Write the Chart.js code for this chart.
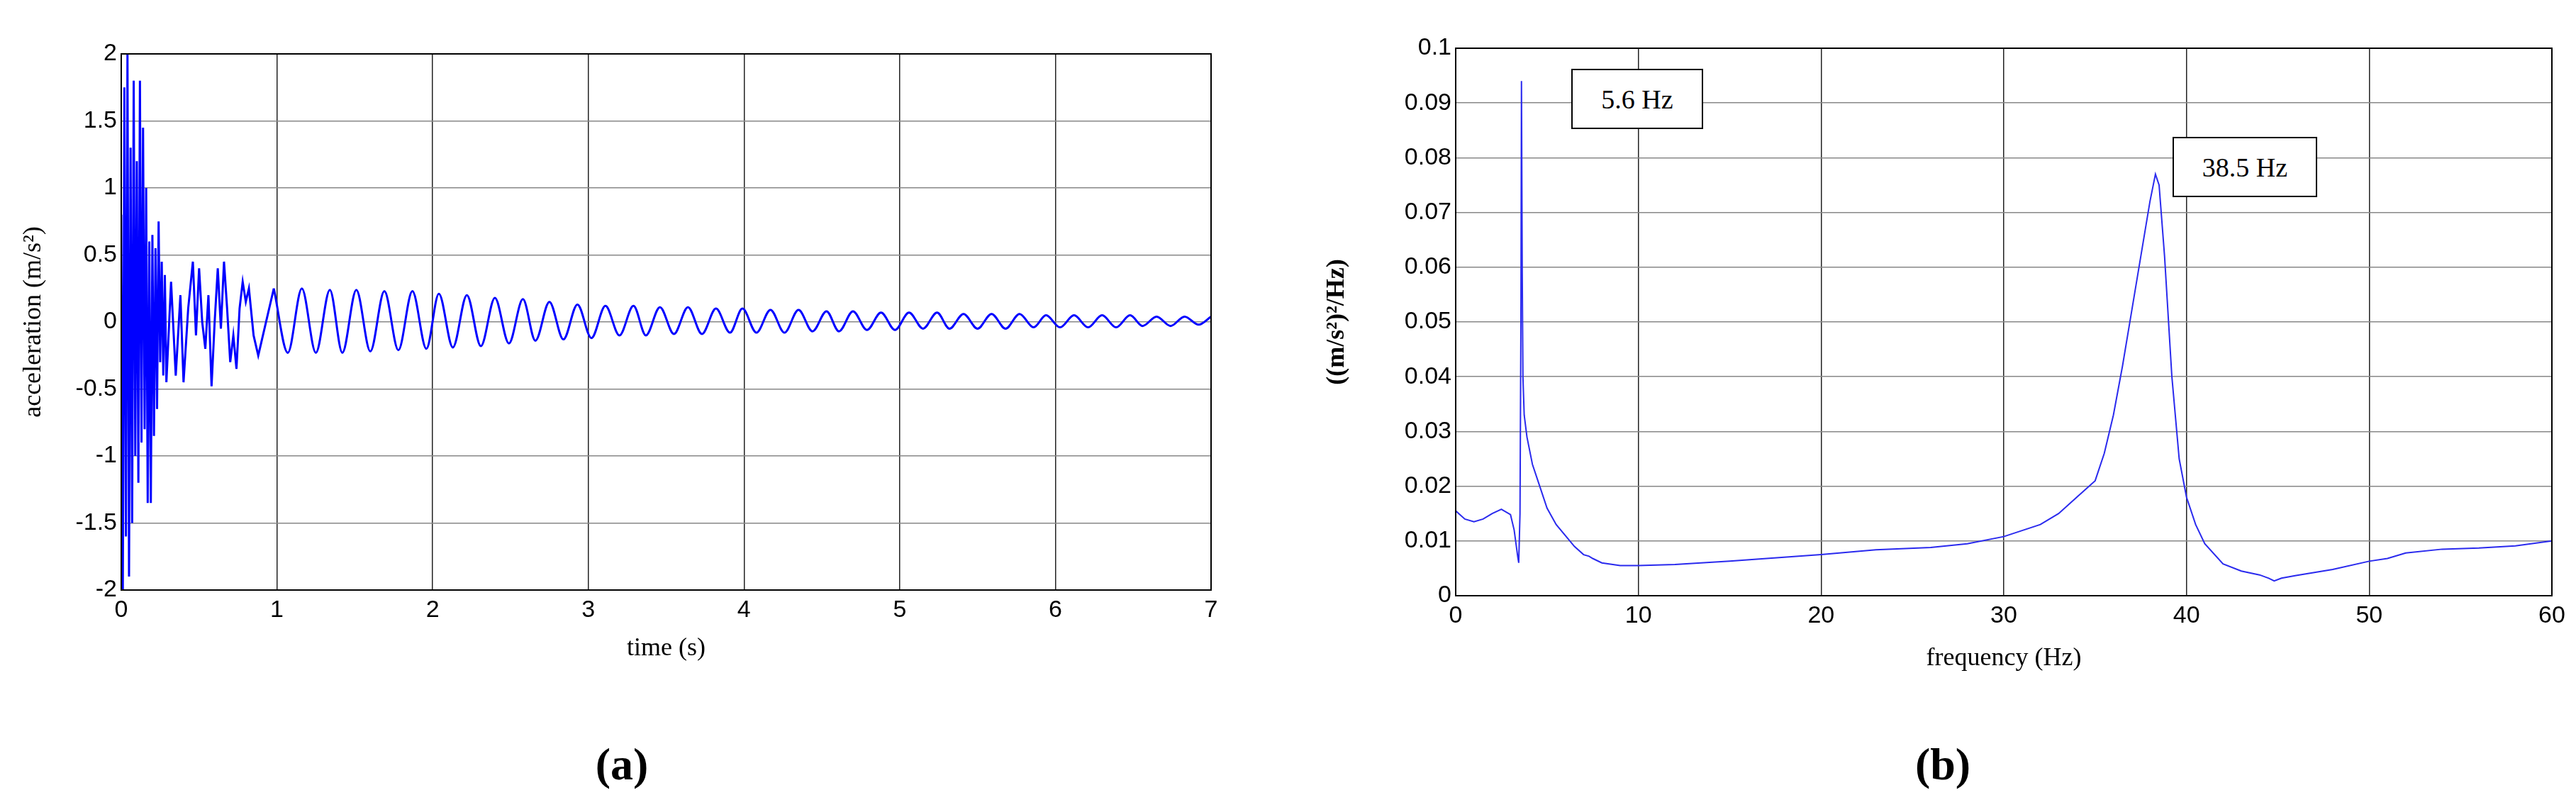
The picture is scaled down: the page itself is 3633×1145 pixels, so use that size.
<!DOCTYPE html>
<html><head><meta charset="utf-8">
<script src="https://cdn.jsdelivr.net/npm/chart.js@4"></script>
<style>
body{margin:0;background:#fff;width:3633px;height:1145px;position:relative;overflow:hidden}
canvas{position:absolute;top:0}
.lab{position:absolute;font-family:"Liberation Serif";font-weight:bold;font-size:64px;transform:translate(-50%,-50%)}
.box{position:absolute;border:2px solid #000;background:#fff;font-family:"Liberation Serif";font-size:38px;display:flex;align-items:center;justify-content:center;box-sizing:border-box}
</style></head><body>
<div style="position:absolute;left:0;top:0;width:1800px;height:1145px"><canvas id="c1"></canvas></div>
<div style="position:absolute;left:1800px;top:0;width:1833px;height:1145px"><canvas id="c2"></canvas></div>
<div class="lab" style="left:877px;top:1078px">(a)</div>
<div class="lab" style="left:2740px;top:1078px">(b)</div>
<div class="box" style="left:2216px;top:97px;width:186px;height:85px">5.6 Hz</div>
<div class="box" style="left:3064px;top:193px;width:204px;height:85px">38.5 Hz</div>
<script>
// (a) time signal
const timeEarly=[0,0.01,0.02,0.03,0.04,0.05,0.06,0.07,0.08,0.09,0.10,0.11,0.12,0.13,0.14,0.15,0.16,0.17,0.18,0.19,0.20,0.21,0.22,0.23,0.24,0.25,0.26,0.27,0.28,0.29,0.32,0.35,0.38,0.40,0.43,0.46,0.48,0.50,0.52,0.54,0.56,0.58,0.60,0.62,0.64,0.66,0.68,0.70,0.72,0.74,0.76,0.78,0.80,0.82,0.85,0.88,0.90,0.98];
const accEarly=[0.8,-2.0,1.75,-1.6,2.0,-1.9,1.3,-1.5,1.8,-1.0,1.2,-1.2,1.8,-0.9,1.45,-0.8,1.0,-1.35,0.6,-1.35,0.65,-0.85,0.55,-0.65,0.75,-0.3,0.45,-0.4,0.35,-0.45,0.3,-0.4,0.2,-0.45,0.1,0.45,-0.1,0.4,0.0,-0.2,0.2,-0.48,0.0,0.4,-0.05,0.45,0.1,-0.3,-0.1,-0.35,0.1,0.3,0.15,0.25,-0.1,-0.25,-0.15,0.25];
const timeOsc=[0.98,1.07,1.16,1.25,1.34,1.42,1.51,1.60,1.69,1.78,1.87,1.96,2.04,2.13,2.22,2.31,2.40,2.49,2.58,2.66,2.75,2.84,2.93,3.02,3.11,3.20,3.29,3.37,3.46,3.55,3.64,3.73,3.82,3.91,3.99,4.08,4.17,4.26,4.35,4.44,4.53,4.61,4.70,4.79,4.88,4.97,5.06,5.15,5.24,5.32,5.41,5.50,5.59,5.68,5.77,5.86,5.94,6.03,6.12,6.21,6.30,6.39,6.48,6.56,6.65,6.74,6.83,6.92,7.0];
const accOsc=[0.25,-0.23,0.25,-0.23,0.24,-0.23,0.24,-0.22,0.23,-0.21,0.23,-0.2,0.21,-0.19,0.2,-0.18,0.18,-0.16,0.17,-0.14,0.15,-0.13,0.13,-0.12,0.12,-0.1,0.12,-0.1,0.11,-0.09,0.11,-0.09,0.1,-0.08,0.1,-0.08,0.09,-0.08,0.09,-0.07,0.08,-0.07,0.08,-0.06,0.07,-0.06,0.07,-0.05,0.07,-0.05,0.06,-0.05,0.06,-0.05,0.06,-0.04,0.05,-0.04,0.05,-0.04,0.05,-0.04,0.05,-0.03,0.04,-0.03,0.04,-0.02,0.04];
const yTicksA=[-2,-1.5,-1,-0.5,0,0.5,1,1.5,2];
// (b) PSD
const freq=[0,0.5,1,1.5,2,2.5,3,3.2,3.4,3.45,3.52,3.57,3.6,3.64,3.68,3.75,3.9,4.2,4.6,5,5.5,6,6.5,7,7.3,7.5,8,9,10,12,15,20,23,26,28,30,32,33,34,35,35.5,36,36.5,37,37.5,38,38.3,38.5,38.8,39.2,39.6,40,40.5,41,42,43,44,44.5,44.8,45.2,46,48,50,51,52,54,56,58,60];
const psd=[0.0155,0.014,0.0135,0.014,0.015,0.0158,0.0148,0.012,0.007,0.006,0.015,0.05,0.094,0.06,0.04,0.033,0.029,0.024,0.02,0.016,0.013,0.011,0.009,0.0075,0.0072,0.0068,0.006,0.0055,0.0055,0.0057,0.0063,0.0075,0.0084,0.0088,0.0095,0.0108,0.013,0.015,0.018,0.021,0.026,0.033,0.042,0.052,0.062,0.072,0.077,0.075,0.062,0.04,0.025,0.018,0.013,0.0095,0.0058,0.0045,0.0038,0.0032,0.0027,0.0032,0.0037,0.0048,0.0063,0.0068,0.0078,0.0085,0.0087,0.0091,0.0100];
const yTicksB=['0','0.01','0.02','0.03','0.04','0.05','0.06','0.07','0.08','0.09','0.1'];

const frame={id:'frame',afterDraw(c){const a=c.chartArea,x=c.ctx;x.save();x.strokeStyle='#000';x.lineWidth=2;x.strokeRect(a.left,a.top,a.right-a.left,a.bottom-a.top);x.restore();}};
const tickFont={family:'Liberation Sans',size:34};
function mk(id,sets,opt){
  return new Chart(document.getElementById(id),{type:'line',
    data:{datasets:sets.map(s=>({data:s.pts,borderColor:opt.color,borderWidth:opt.lw,pointRadius:0,tension:s.smooth?0.4:0,cubicInterpolationMode:s.smooth?'monotone':'default'}))},
    options:{responsive:true,maintainAspectRatio:false,animation:false,
      layout:{padding:opt.pad},
      plugins:{legend:{display:false},tooltip:{enabled:false}},
      scales:{
        x:{type:'linear',min:opt.xmin,max:opt.xmax,afterFit:s=>{s.height=opt.xh},
          ticks:{stepSize:opt.xstep,font:tickFont,color:'#000',padding:8,maxRotation:0},
          grid:{color:'#222',borderDash:[4,6],drawTicks:false,lineWidth:1.5},border:{color:'#000',width:2},
          title:{display:true,text:opt.xt,font:{family:'Liberation Serif',size:36},color:'#000',padding:{top:20}}},
        y:{min:opt.ymin,max:opt.ymax,afterFit:s=>{s.width=opt.yw},
          ticks:{stepSize:opt.ystep,font:tickFont,color:'#000',padding:6,callback:opt.ycb},
          grid:{color:'#888',drawTicks:false,lineWidth:1.5},border:{color:'#000',width:2},
          title:{display:true,text:opt.yt,font:{family:'Liberation Serif',size:36,weight:opt.ybold?'bold':'normal'},color:'#000',padding:4}}}},
    plugins:[frame]});
}
const ptsEarly=timeEarly.map((t,i)=>({x:t,y:accEarly[i]}));
const ptsOsc=timeOsc.map((t,i)=>({x:t,y:accOsc[i]}));
mk('c1',[{pts:ptsEarly},{pts:ptsOsc,smooth:true}],{color:'#0000ff',lw:3,pad:{left:22,top:76,right:92,bottom:205},xh:108,yw:149,xmin:0,xmax:7,xstep:1,ymin:-2,ymax:2,ystep:0.5,
  xt:'time (s)',yt:'acceleration (m/s²)',ycb:(v,i)=>String(yTicksA[i])});
const ptsB=freq.map((f,i)=>({x:f,y:psd[i]}));
mk('c2',[{pts:ptsB}],{color:'#2a2aee',lw:2,pad:{left:60,top:68,right:34,bottom:191},xh:114,yw:193,xmin:0,xmax:60,xstep:10,ymin:0,ymax:0.1,ystep:0.01,
  xt:'frequency (Hz)',yt:'((m/s²)²/Hz)',ybold:true,ycb:(v,i)=>yTicksB[i]});
</script></body></html>
